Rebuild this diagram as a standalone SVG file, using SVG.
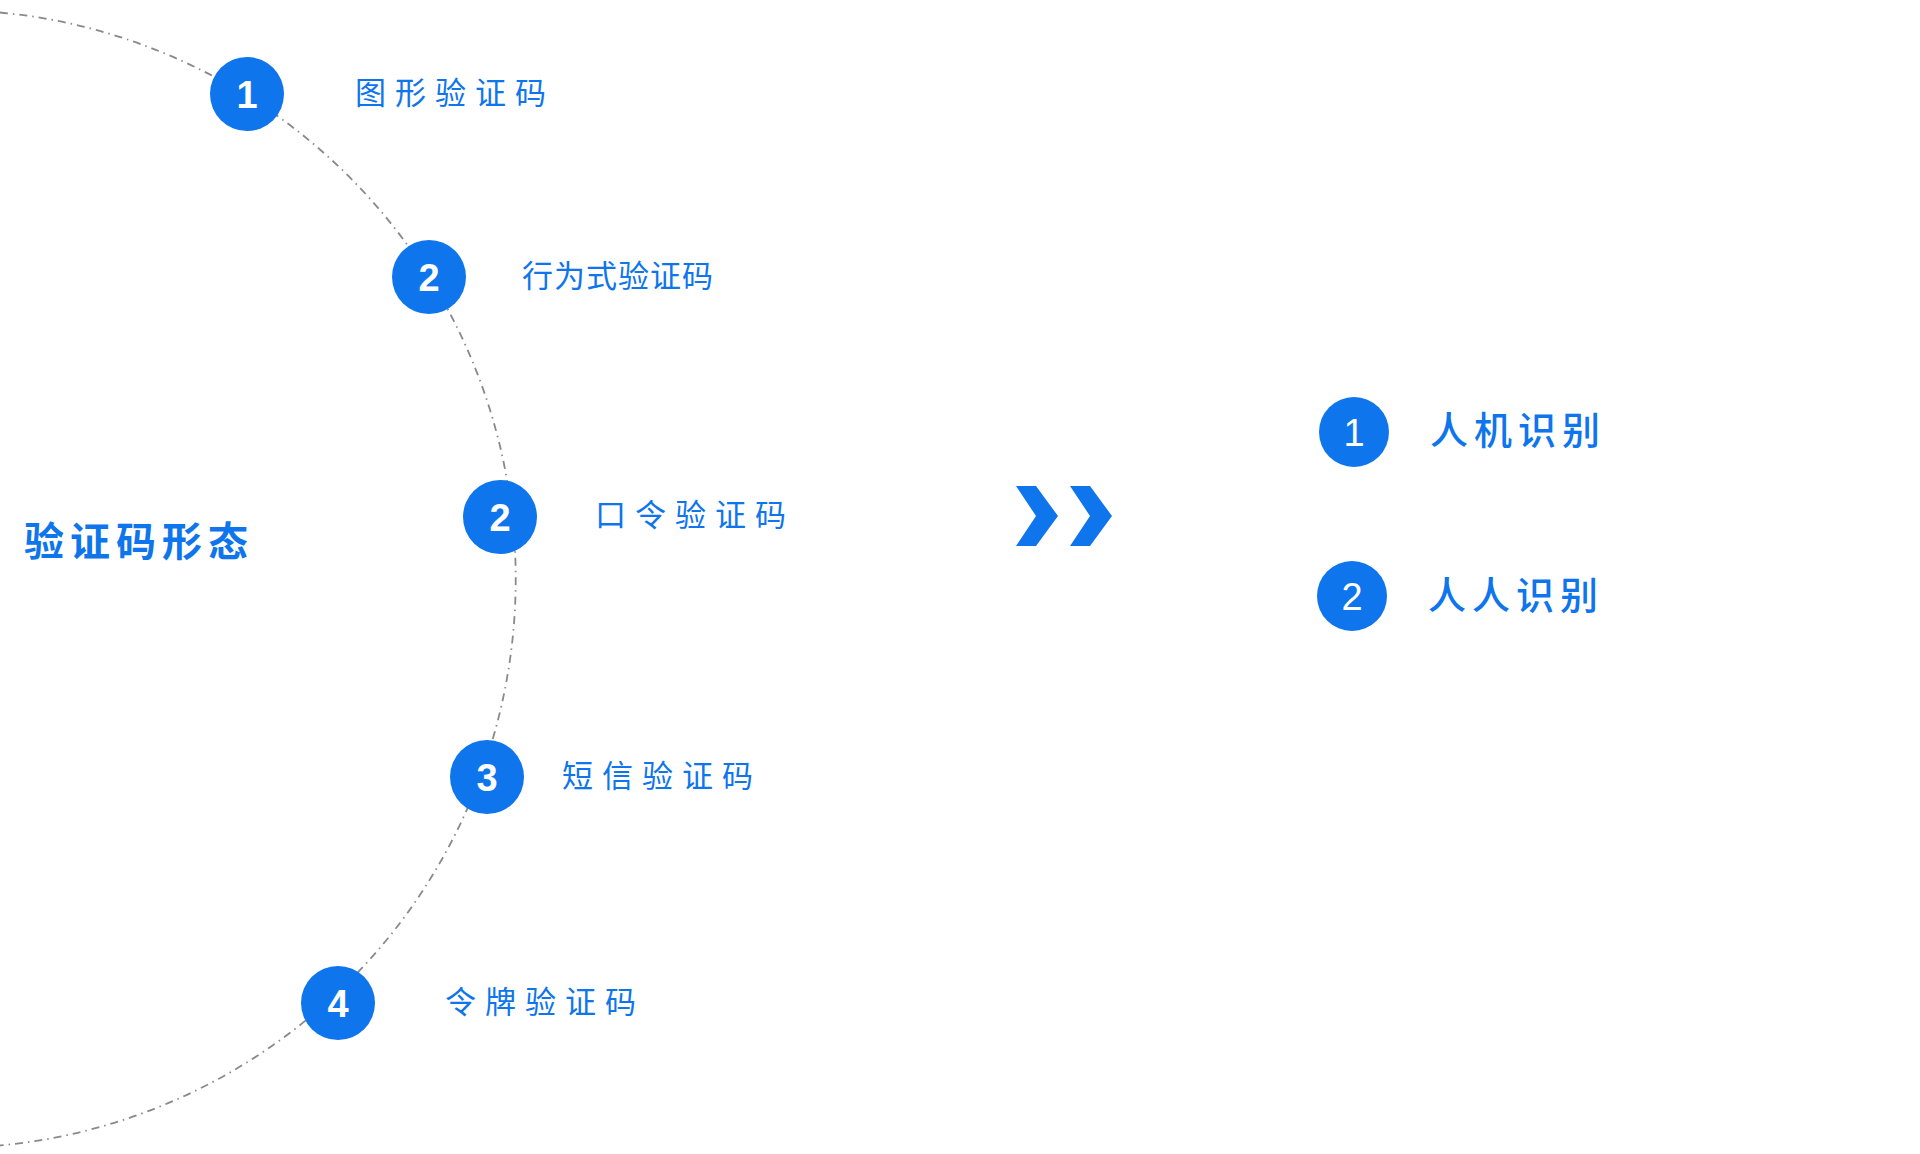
<svg xmlns="http://www.w3.org/2000/svg" width="1920" height="1154" viewBox="0 0 1920 1154">
<style>
.bg{fill:#ffffff}
.dot{fill:#0e75ed}
.num{fill:#ffffff;font-family:"Liberation Sans",Arial,sans-serif;font-size:38px;font-weight:bold;text-anchor:middle}
.numr{fill:#ffffff;font-family:"Liberation Sans",Arial,sans-serif;font-size:38px;font-weight:normal;text-anchor:middle}
.lbl{fill:#0e75ed;font-family:"Noto Sans CJK SC","Noto Sans",sans-serif;font-size:31px;letter-spacing:9px}
.lbl2{fill:#0e75ed;font-family:"Noto Sans CJK SC","Noto Sans",sans-serif;font-size:31px;letter-spacing:1px}
.title{fill:#0e75ed;font-family:"Noto Sans CJK SC","Noto Sans",sans-serif;font-size:40px;font-weight:bold;letter-spacing:6px}
.rl{fill:#0e75ed;font-family:"Noto Sans CJK SC","Noto Sans",sans-serif;font-size:38px;font-weight:500;letter-spacing:6px}
.arc{fill:none;stroke:#8a8a8a;stroke-width:1.8;stroke-dasharray:8 5 1.5 5}
.chev{fill:#0e75ed}
</style>
<rect class="bg" x="0" y="0" width="1920" height="1154"/>
<g id="connectors">
<path class="arc" d="M 0 12.5 A 569 569 0 0 1 0 1145.5"/>
</g>
<g id="title"><text class="title" x="24" y="556">验证码形态</text></g>
<g id="n1"><circle class="dot" cx="247" cy="94" r="37"/><text class="num" x="247" y="107.7">1</text><text class="lbl" x="355" y="104">图形验证码</text></g>
<g id="n2"><circle class="dot" cx="429" cy="277" r="37"/><text class="num" x="429" y="290.7">2</text><text class="lbl2" x="522" y="287">行为式验证码</text></g>
<g id="n2b"><circle class="dot" cx="500" cy="517" r="37"/><text class="num" x="500" y="530.7">2</text><text class="lbl" x="595" y="526">口令验证码</text></g>
<g id="n3"><circle class="dot" cx="487" cy="777" r="37"/><text class="num" x="487" y="790.7">3</text><text class="lbl" x="562" y="787">短信验证码</text></g>
<g id="n4"><circle class="dot" cx="338" cy="1003" r="37"/><text class="num" x="338" y="1016.7">4</text><text class="lbl" x="445" y="1013">令牌验证码</text></g>
<g id="chevrons">
<polygon class="chev" points="1016,486 1036,486 1058,516 1036,546 1016,546 1036,516"/>
<polygon class="chev" points="1070,486 1090,486 1112,516 1090,546 1070,546 1090,516"/>
</g>
<g id="r1"><circle class="dot" cx="1354" cy="432" r="35"/><text class="numr" x="1354" y="445.5">1</text><text class="rl" x="1430" y="444">人机识别</text></g>
<g id="r2"><circle class="dot" cx="1352" cy="596" r="35"/><text class="numr" x="1352" y="609.5">2</text><text class="rl" x="1428" y="609">人人识别</text></g>
</svg>
